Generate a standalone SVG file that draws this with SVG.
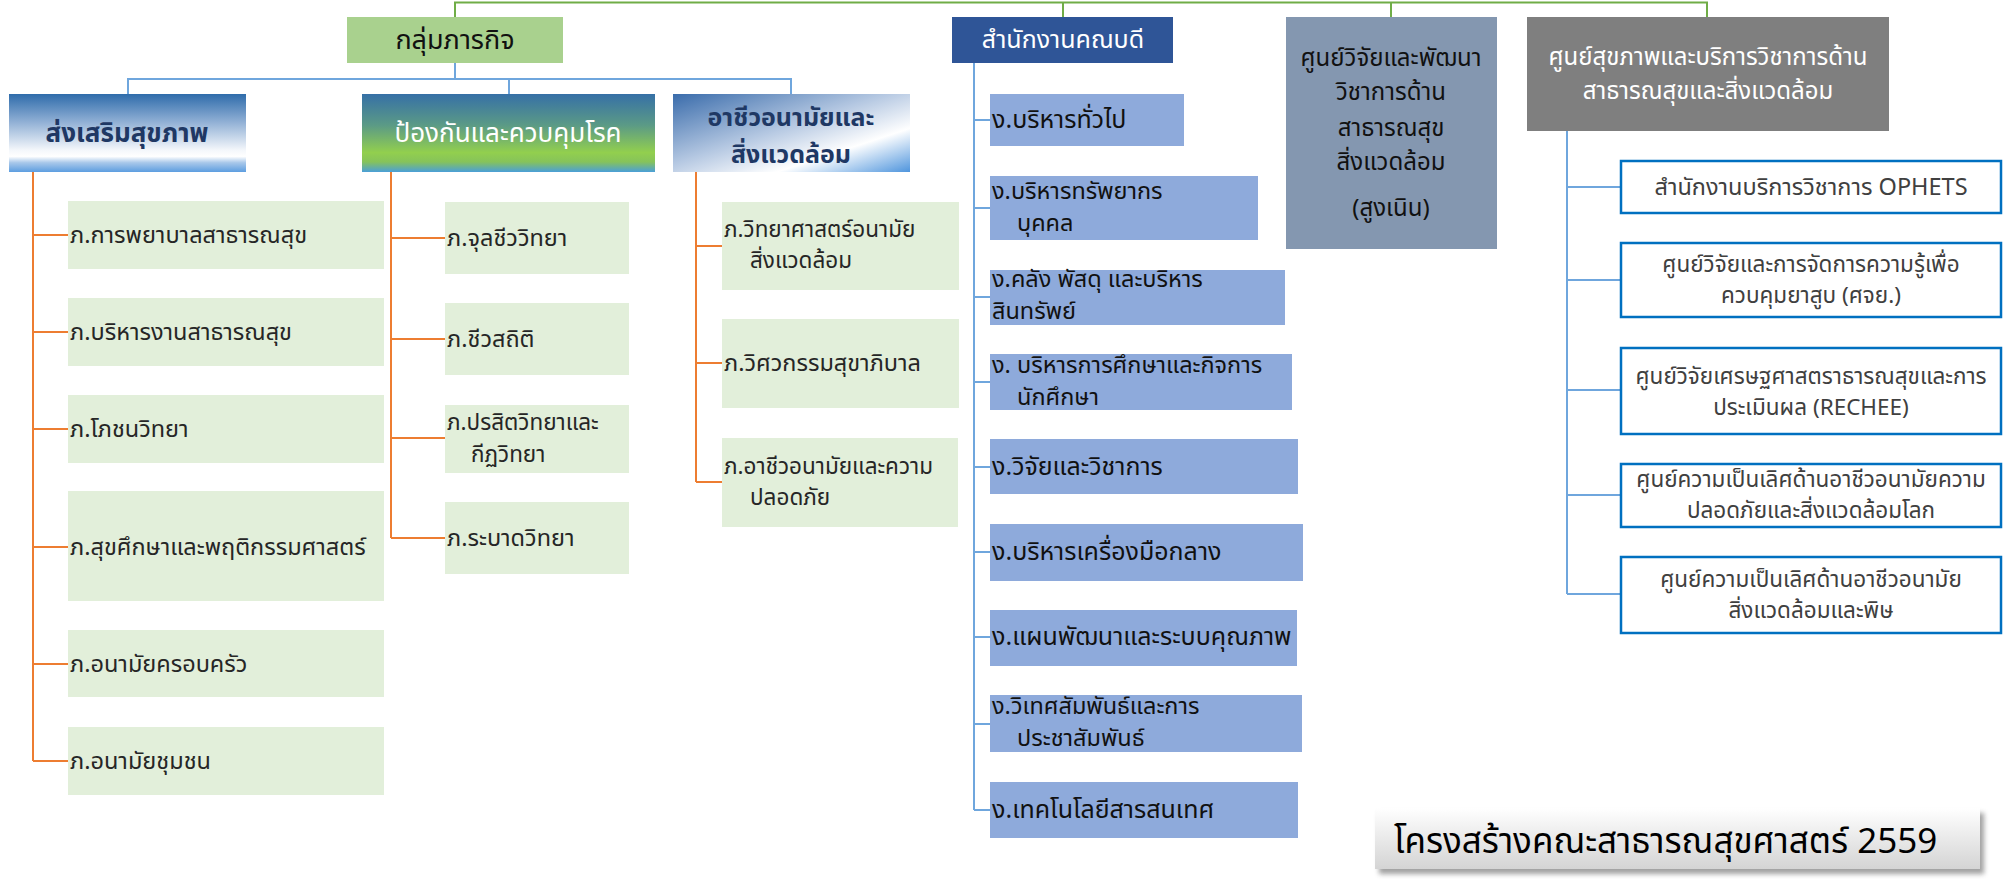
<svg xmlns="http://www.w3.org/2000/svg" width="2007" height="879" viewBox="0 0 2007 879">
<defs>
<linearGradient id="gPromo" x1="0" y1="0" x2="0" y2="1">
<stop offset="0" stop-color="#2f6cab"/><stop offset="0.35" stop-color="#8eaed4"/><stop offset="0.72" stop-color="#f4f7fb"/><stop offset="0.8" stop-color="#ffffff"/><stop offset="0.88" stop-color="#a9c8ea"/><stop offset="1" stop-color="#5d9ee0"/>
</linearGradient>
<linearGradient id="gPrev" x1="0" y1="0" x2="0" y2="1">
<stop offset="0" stop-color="#3670a6"/><stop offset="0.4" stop-color="#5b9a86"/><stop offset="0.75" stop-color="#92cf4e"/><stop offset="0.87" stop-color="#86c35a"/><stop offset="1" stop-color="#4b9fd8"/>
</linearGradient>
<linearGradient id="gOcc" x1="0" y1="0" x2="1" y2="1">
<stop offset="0" stop-color="#3a6cab"/><stop offset="0.45" stop-color="#b5c8e2"/><stop offset="0.72" stop-color="#ffffff"/><stop offset="1" stop-color="#4f95dd"/>
</linearGradient>
<linearGradient id="gTitle" x1="0" y1="0" x2="0" y2="1">
<stop offset="0" stop-color="#ffffff"/><stop offset="1" stop-color="#d4d4d4"/>
</linearGradient>
<filter id="shadow" x="-5%" y="-20%" width="110%" height="150%">
<feGaussianBlur stdDeviation="2.5"/>
</filter>
</defs>
<style>
.t{font-family:'Noto Sans Thai',Tahoma,'Liberation Sans','Noto Sans',sans-serif;}
.h{font-family:'Noto Sans Thai','Liberation Sans Narrow','Liberation Sans','Noto Sans',sans-serif;}
.dep{fill:#e2efda;}
.div{fill:#8eaadb;}
.ctr{fill:#ffffff;stroke:#0070c0;stroke-width:2.5;}
.lt{font-size:23.5px;fill:#262626;}
.lt2{font-size:22.5px;fill:#262626;}
.dt{font-size:25px;fill:#111111;}
.dt2{font-size:23.5px;fill:#111111;}
.rt{font-size:23.5px;fill:#404040;text-anchor:middle;}
.rt2{font-size:22.5px;fill:#404040;text-anchor:middle;}
.green{stroke:#70ad47;stroke-width:2;fill:none;}
.blue{stroke:#6fa6dd;stroke-width:2;fill:none;}
.orange{stroke:#ed7d31;stroke-width:2;fill:none;}
</style>

<g id="connectors">
<path class="green" d="M455,17 V2.5 H1707 V17 M1063,2.5 V17 M1391,2.5 V17"/>
<path class="blue" d="M455,63 V79 M128,94 V79 H791 V94 M509,79 V94"/>
<path class="orange" d="M33,172 V761 M33,235 H68 M33,332 H68 M33,429 H68 M33,547 H68 M33,664 H68 M33,761 H68"/>
<path class="orange" d="M391,172 V538 M391,238 H445 M391,339 H445 M391,438 H445 M391,538 H445"/>
<path class="orange" d="M696,172 V482 M696,246 H722 M696,363 H722 M696,482 H722"/>
<path class="blue" d="M974,63 V810 M974,120 H990 M974,208 H990 M974,297 H990 M974,382 H990 M974,467 H990 M974,552 H990 M974,637 H990 M974,724 H990 M974,810 H990"/>
<path class="blue" d="M1567,131 V594 M1567,187 H1621 M1567,280 H1621 M1567,390 H1621 M1567,495 H1621 M1567,594 H1621"/>
</g>

<g id="mission-group">
<rect x="347" y="17" width="216" height="46" fill="#a9d18e"/>
<text class="h" x="455" y="49" font-size="27" text-anchor="middle" fill="#111">กลุ่มภารกิจ</text>
</g>
<g id="health-promotion">
<rect x="9" y="94" width="237" height="78" fill="url(#gPromo)"/>
<text class="h" x="127" y="142" font-size="26" font-weight="bold" text-anchor="middle" fill="#1f3864">ส่งเสริมสุขภาพ</text>
</g>
<g id="disease-prevention">
<rect x="362" y="94" width="293" height="78" fill="url(#gPrev)"/>
<text class="h" x="508" y="142" font-size="26" text-anchor="middle" fill="#ffffff">ป้องกันและควบคุมโรค</text>
</g>
<g id="occupational-env">
<rect x="673" y="94" width="237" height="78" fill="url(#gOcc)"/>
<text class="h" font-size="25" font-weight="bold" text-anchor="middle" fill="#1f3864"><tspan x="791" y="126">อาชีวอนามัยและ</tspan><tspan x="791" y="163">สิ่งแวดล้อม</tspan></text>
</g>
<g id="dean-office">
<rect x="952" y="17" width="221" height="46" fill="#2f5597"/>
<text class="h" x="1063" y="48" font-size="25" text-anchor="middle" fill="#ffffff">สำนักงานคณบดี</text>
</g>
<g id="research-center">
<rect x="1286" y="17" width="211" height="232" fill="#8497b0"/>
<text class="h" font-size="24" text-anchor="middle" fill="#111"><tspan x="1391" y="66">ศูนย์วิจัยและพัฒนา</tspan><tspan x="1391" y="100">วิชาการด้าน</tspan><tspan x="1391" y="136">สาธารณสุข</tspan><tspan x="1391" y="170">สิ่งแวดล้อม</tspan><tspan x="1391" y="216">(สูงเนิน)</tspan></text>
</g>
<g id="health-service-center">
<rect x="1527" y="17" width="362" height="114" fill="#7f7f7f"/>
<text class="h" font-size="24" text-anchor="middle" fill="#ffffff"><tspan x="1708" y="65">ศูนย์สุขภาพและบริการวิชาการด้าน</tspan><tspan x="1708" y="99">สาธารณสุขและสิ่งแวดล้อม</tspan></text>
</g>

<g id="dept-nursing"><rect class="dep" x="68" y="201" width="316" height="68"/><text class="t lt" x="70" y="243">ภ.การพยาบาลสาธารณสุข</text></g>
<g id="dept-admin"><rect class="dep" x="68" y="298" width="316" height="68"/><text class="t lt" x="70" y="340">ภ.บริหารงานสาธารณสุข</text></g>
<g id="dept-nutrition"><rect class="dep" x="68" y="395" width="316" height="68"/><text class="t lt" x="70" y="437">ภ.โภชนวิทยา</text></g>
<g id="dept-health-ed"><rect class="dep" x="68" y="491" width="316" height="110"/><text class="t lt" x="70" y="555">ภ.สุขศึกษาและพฤติกรรมศาสตร์</text></g>
<g id="dept-family"><rect class="dep" x="68" y="630" width="316" height="67"/><text class="t lt" x="70" y="672">ภ.อนามัยครอบครัว</text></g>
<g id="dept-community"><rect class="dep" x="68" y="727" width="316" height="68"/><text class="t lt" x="70" y="769">ภ.อนามัยชุมชน</text></g>

<g id="dept-micro"><rect class="dep" x="445" y="202" width="184" height="72"/><text class="t lt" x="447" y="246">ภ.จุลชีววิทยา</text></g>
<g id="dept-biostat"><rect class="dep" x="445" y="303" width="184" height="72"/><text class="t lt" x="447" y="347">ภ.ชีวสถิติ</text></g>
<g id="dept-parasit"><rect class="dep" x="445" y="405" width="184" height="68"/><text class="t lt2"><tspan x="447" y="430">ภ.ปรสิตวิทยาและ</tspan><tspan x="471" y="462">กีฏวิทยา</tspan></text></g>
<g id="dept-epi"><rect class="dep" x="445" y="502" width="184" height="72"/><text class="t lt" x="447" y="546">ภ.ระบาดวิทยา</text></g>

<g id="dept-envsci"><rect class="dep" x="722" y="202" width="237" height="88"/><text class="t lt2"><tspan x="724" y="237">ภ.วิทยาศาสตร์อนามัย</tspan><tspan x="750" y="268">สิ่งแวดล้อม</tspan></text></g>
<g id="dept-saneng"><rect class="dep" x="722" y="319" width="237" height="89"/><text class="t lt" x="724" y="371">ภ.วิศวกรรมสุขาภิบาล</text></g>
<g id="dept-occsafety"><rect class="dep" x="722" y="438" width="236" height="89"/><text class="t lt2"><tspan x="724" y="474">ภ.อาชีวอนามัยและความ</tspan><tspan x="750" y="505">ปลอดภัย</tspan></text></g>

<g id="div-general"><rect class="div" x="990" y="94" width="194" height="52"/><text class="t dt" x="992" y="128">ง.บริหารทั่วไป</text></g>
<g id="div-hr"><rect class="div" x="990" y="176" width="268" height="64"/><text class="t dt2"><tspan x="992" y="199">ง.บริหารทรัพยากร</tspan><tspan x="1017" y="231">บุคคล</tspan></text></g>
<g id="div-finance"><rect class="div" x="990" y="270" width="295" height="55"/><text class="t dt2"><tspan x="992" y="287">ง.คลัง พัสดุ และบริหาร</tspan><tspan x="992" y="319">สินทรัพย์</tspan></text></g>
<g id="div-education"><rect class="div" x="990" y="354" width="302" height="56"/><text class="t dt2"><tspan x="992" y="373">ง. บริหารการศึกษาและกิจการ</tspan><tspan x="1017" y="405">นักศึกษา</tspan></text></g>
<g id="div-research"><rect class="div" x="990" y="439" width="308" height="55"/><text class="t dt" x="992" y="475">ง.วิจัยและวิชาการ</text></g>
<g id="div-equipment"><rect class="div" x="990" y="524" width="313" height="57"/><text class="t dt" x="992" y="560">ง.บริหารเครื่องมือกลาง</text></g>
<g id="div-planning"><rect class="div" x="990" y="610" width="307" height="56"/><text class="t dt" x="992" y="645">ง.แผนพัฒนาและระบบคุณภาพ</text></g>
<g id="div-intl"><rect class="div" x="990" y="695" width="312" height="57"/><text class="t dt2"><tspan x="992" y="714">ง.วิเทศสัมพันธ์และการ</tspan><tspan x="1017" y="746">ประชาสัมพันธ์</tspan></text></g>
<g id="div-it"><rect class="div" x="990" y="782" width="308" height="56"/><text class="t dt" x="992" y="818">ง.เทคโนโลยีสารสนเทศ</text></g>

<g id="ctr-ophets"><rect class="ctr" x="1621" y="161" width="380" height="52"/><text class="t rt" x="1811" y="195">สำนักงานบริการวิชาการ OPHETS</text></g>
<g id="ctr-tobacco"><rect class="ctr" x="1621" y="243" width="380" height="74"/><text class="t rt2"><tspan x="1811" y="272">ศูนย์วิจัยและการจัดการความรู้เพื่อ</tspan><tspan x="1811" y="303">ควบคุมยาสูบ (ศจย.)</tspan></text></g>
<g id="ctr-rechee"><rect class="ctr" x="1621" y="348" width="380" height="86"/><text class="t rt2"><tspan x="1811" y="384">ศูนย์วิจัยเศรษฐศาสตราธารณสุขและการ</tspan><tspan x="1811" y="415">ประเมินผล (RECHEE)</tspan></text></g>
<g id="ctr-occ-excellence"><rect class="ctr" x="1621" y="464" width="380" height="63"/><text class="t rt2"><tspan x="1811" y="487">ศูนย์ความเป็นเลิศด้านอาชีวอนามัยความ</tspan><tspan x="1811" y="518">ปลอดภัยและสิ่งแวดล้อมโลก</tspan></text></g>
<g id="ctr-toxic"><rect class="ctr" x="1621" y="557" width="380" height="76"/><text class="t rt2"><tspan x="1811" y="587">ศูนย์ความเป็นเลิศด้านอาชีวอนามัย</tspan><tspan x="1811" y="618">สิ่งแวดล้อมและพิษ</tspan></text></g>

<g id="title">
<rect x="1379" y="813" width="605" height="61" fill="#555" opacity="0.55" filter="url(#shadow)"/>
<rect x="1375" y="808" width="605" height="61" fill="url(#gTitle)"/>
<text class="h" x="1394" y="853" font-size="35" fill="#000">โครงสร้างคณะสาธารณสุขศาสตร์ 2559</text>
</g>
</svg>
